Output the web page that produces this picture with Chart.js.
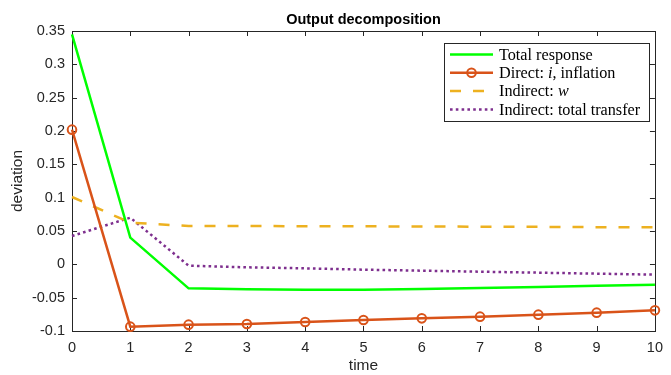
<!DOCTYPE html>
<html>
<head>
<meta charset="utf-8">
<script src="https://cdn.jsdelivr.net/npm/chart.js@4.4.1/dist/chart.umd.min.js"></script>
<style>
  html, body { margin: 0; padding: 0; background: #fff; }
  canvas { display: block; }
</style>
</head>
<body>
<canvas id="myChart" width="671" height="375"></canvas>
<script>
var periods = [0, 1, 2, 3, 4, 5, 6, 7, 8, 9, 10];
var yTicks = [-0.1, -0.05, 0, 0.05, 0.1, 0.15, 0.2, 0.25, 0.3, 0.35];

var totalResponse = [0.345, 0.040, -0.036, -0.0375, -0.038, -0.038, -0.037, -0.0355, -0.034, -0.032, -0.0305];
var directInflation = [0.202, -0.0935, -0.0905, -0.0895, -0.0865, -0.0835, -0.081, -0.0785, -0.0755, -0.0725, -0.069];
var indirectW = [0.101, 0.0625, 0.0575, 0.0575, 0.0572, 0.057, 0.0568, 0.0565, 0.0562, 0.0558, 0.0555];
var indirectTransfer = [0.0425, 0.070, -0.002, -0.0045, -0.006, -0.008, -0.0095, -0.011, -0.0125, -0.014, -0.0155];

var axisColor = "#262626";
var tickFont = { family: "Liberation Sans", size: 14.5 };

// legend entries: text pieces, italic flag per piece
var legendItems = [
    [["Total response", false]],
    [["Direct: ", false], ["i", true], [", inflation", false]],
    [["Indirect: ", false], ["w", true]],
    [["Indirect: total transfer", false]]
];

// axes box with inward ticks, title, axis labels and legend
var matlabAxes = {
    id: "matlabAxes",
    beforeDatasetsDraw: function (chart) {
        var ctx = chart.ctx;
        var a = chart.chartArea;
        var xs = chart.scales.x;
        var ys = chart.scales.y;
        ctx.save();
        ctx.strokeStyle = axisColor;
        ctx.lineWidth = 1;
        ctx.beginPath();
        periods.forEach(function (p, i) {
            var px = Math.round(xs.getPixelForValue(i)) + 0.5;
            ctx.moveTo(px, a.bottom); ctx.lineTo(px, a.bottom - 5);
            ctx.moveTo(px, a.top); ctx.lineTo(px, a.top + 5);
        });
        yTicks.forEach(function (v) {
            var py = Math.round(ys.getPixelForValue(v)) + 0.5;
            ctx.moveTo(a.left, py); ctx.lineTo(a.left + 5, py);
            ctx.moveTo(a.right, py); ctx.lineTo(a.right - 5, py);
        });
        ctx.stroke();
        ctx.strokeRect(Math.round(a.left) + 0.5, Math.round(a.top) + 0.5,
            Math.round(a.right - a.left), Math.round(a.bottom - a.top));

        ctx.fillStyle = "#000";
        ctx.font = "bold 14.5px 'Liberation Sans'";
        ctx.textAlign = "center";
        ctx.textBaseline = "middle";
        ctx.fillText("Output decomposition", (a.left + a.right) / 2, 20);

        ctx.fillStyle = axisColor;
        ctx.font = "15.5px 'Liberation Sans'";
        ctx.fillText("time", (a.left + a.right) / 2, 366);
        ctx.translate(18, (a.top + a.bottom) / 2);
        ctx.rotate(-Math.PI / 2);
        ctx.fillText("deviation", 0, 0);
        ctx.restore();
    },
    afterDraw: function (chart) {
        var ctx = chart.ctx;
        var bx = 444.5, by = 43.5, bw = 205, bh = 78;
        ctx.save();
        ctx.fillStyle = "#fff";
        ctx.fillRect(bx, by, bw, bh);
        ctx.strokeStyle = axisColor;
        ctx.lineWidth = 1;
        ctx.strokeRect(bx, by, bw, bh);
        chart.data.datasets.forEach(function (ds, i) {
            var y = by + 11 + i * 18.3;
            ctx.strokeStyle = ds.borderColor;
            ctx.lineWidth = ds.borderWidth;
            ctx.setLineDash(ds.borderDash || []);
            ctx.beginPath();
            ctx.moveTo(450, y);
            ctx.lineTo(493, y);
            ctx.stroke();
            ctx.setLineDash([]);
            if (ds.pointRadius > 0) {
                ctx.lineWidth = ds.pointBorderWidth;
                ctx.beginPath();
                ctx.arc(471.5, y, ds.pointRadius, 0, Math.PI * 2);
                ctx.stroke();
            }
            var tx = 499;
            ctx.fillStyle = "#000";
            ctx.textAlign = "left";
            ctx.textBaseline = "middle";
            legendItems[i].forEach(function (piece) {
                ctx.font = (piece[1] ? "italic " : "") + "16.2px 'Liberation Serif'";
                ctx.fillText(piece[0], tx, y + 1);
                tx += ctx.measureText(piece[0]).width;
            });
        });
        ctx.restore();
    }
};

var ctx = document.getElementById("myChart").getContext("2d");
var chart = new Chart(ctx, {
    type: "line",
    data: {
        labels: periods,
        datasets: [
            {
                label: "Total response",
                data: totalResponse,
                borderColor: "#00ff00",
                borderWidth: 2.5,
                pointRadius: 0
            },
            {
                label: "Direct: i, inflation",
                data: directInflation,
                borderColor: "#D95319",
                borderWidth: 2.5,
                pointRadius: 4.3,
                pointBorderWidth: 2,
                pointBorderColor: "#D95319",
                pointBackgroundColor: "rgba(0,0,0,0)"
            },
            {
                label: "Indirect: w",
                data: indirectW,
                borderColor: "#EDB120",
                borderWidth: 2.5,
                borderDash: [11, 12],
                pointRadius: 0
            },
            {
                label: "Indirect: total transfer",
                data: indirectTransfer,
                borderColor: "#7E2F8E",
                borderWidth: 2.5,
                borderDash: [2.6, 3.2],
                pointRadius: 0
            }
        ]
    },
    options: {
        responsive: false,
        animation: false,
        devicePixelRatio: 1,
        layout: { padding: { left: 0, top: 31, right: 10, bottom: 0 } },
        elements: { line: { tension: 0 } },
        datasets: { line: { clip: false } },
        plugins: {
            legend: { display: false },
            title: { display: false },
            tooltip: { enabled: false }
        },
        scales: {
            x: {
                type: "category",
                offset: false,
                grid: { display: false, drawTicks: false },
                border: { display: false },
                ticks: { color: axisColor, font: tickFont, padding: 8, maxRotation: 0, autoSkip: false },
                afterFit: function (scale) { scale.height = 44; }
            },
            y: {
                min: -0.1,
                max: 0.35,
                grid: { display: false, drawTicks: false },
                border: { display: false },
                ticks: {
                    color: axisColor,
                    font: tickFont,
                    padding: 7,
                    callback: function (value) { return String(value); }
                },
                afterBuildTicks: function (scale) {
                    scale.ticks = yTicks.map(function (v) { return { value: v }; });
                },
                afterFit: function (scale) { scale.width = 72; }
            }
        }
    },
    plugins: [matlabAxes]
});
</script>
</body>
</html>
